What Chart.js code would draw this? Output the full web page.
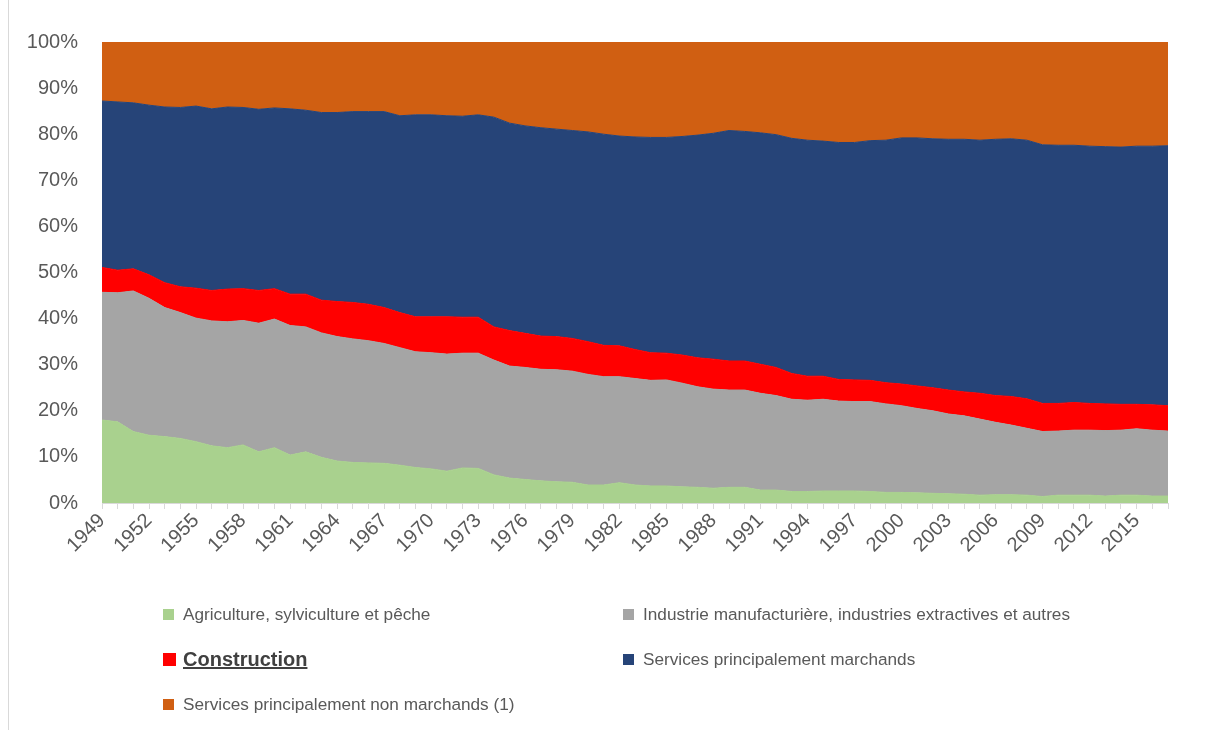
<!DOCTYPE html>
<html lang="fr">
<head>
<meta charset="utf-8">
<title>Valeur ajoutée par branche</title>
<script src="https://cdn.jsdelivr.net/npm/chart.js@4.4.1/dist/chart.umd.min.js"></script>
<style>
  html, body { margin: 0; padding: 0; background: #fff; }
  body { width: 1207px; height: 730px; position: relative; overflow: hidden; font-family: "Liberation Sans", Arial, sans-serif; }
  #frame { position: absolute; left: 8px; top: 0; width: 1px; height: 730px; background: #d9d9d9; }
  #wrap { position: absolute; left: 0; top: 0; width: 1207px; height: 590px; }
  #legend { position: absolute; left: 0; top: 0; width: 1207px; height: 730px; pointer-events: none; }
  .item { position: absolute; display: flex; align-items: center; color: #595959; font-size: 17.2px; white-space: nowrap; }
  .box { width: 11px; height: 11px; margin-right: 9px; flex: none; }
  .item.bold { font-size: 20px; font-weight: bold; text-decoration: underline; color: #404040; }
  .item.bold .box { width: 13px; height: 13px; margin-right: 7px; }
</style>
</head>
<body>
<div id="frame"></div>
<div id="wrap"><canvas id="areaChart"></canvas></div>
<div id="legend"></div>
<script>
const years = [1949, 1950, 1951, 1952, 1953, 1954, 1955, 1956, 1957, 1958,
    1959, 1960, 1961, 1962, 1963, 1964, 1965, 1966, 1967, 1968,
    1969, 1970, 1971, 1972, 1973, 1974, 1975, 1976, 1977, 1978,
    1979, 1980, 1981, 1982, 1983, 1984, 1985, 1986, 1987, 1988,
    1989, 1990, 1991, 1992, 1993, 1994, 1995, 1996, 1997, 1998,
    1999, 2000, 2001, 2002, 2003, 2004, 2005, 2006, 2007, 2008,
    2009, 2010, 2011, 2012, 2013, 2014, 2015, 2016, 2017];

// parts en %
const agriculture = [18.0, 17.6, 15.5, 14.7, 14.4, 14.0, 13.3, 12.4, 12.0, 12.6,
    11.1, 12.0, 10.4, 11.1, 9.9, 9.1, 8.8, 8.7, 8.6, 8.2,
    7.7, 7.4, 6.9, 7.6, 7.5, 6.1, 5.4, 5.1, 4.8, 4.6,
    4.5, 3.9, 3.9, 4.4, 3.9, 3.7, 3.7, 3.5, 3.4, 3.2,
    3.4, 3.4, 2.8, 2.8, 2.5, 2.5, 2.6, 2.6, 2.6, 2.5,
    2.3, 2.3, 2.2, 2.1, 2.0, 1.9, 1.7, 1.8, 1.8, 1.7,
    1.4, 1.7, 1.7, 1.7, 1.5, 1.7, 1.7, 1.5, 1.5];

const industrie = [27.7, 28.0, 30.5, 29.7, 28.0, 27.3, 26.8, 27.1, 27.3, 27.0,
    27.9, 27.9, 28.1, 27.1, 27.0, 27.0, 26.8, 26.5, 26.0, 25.5,
    25.1, 25.2, 25.4, 24.9, 25.0, 24.9, 24.3, 24.3, 24.2, 24.3,
    24.1, 24.0, 23.5, 23.0, 23.1, 22.9, 23.0, 22.5, 21.8, 21.5,
    21.1, 21.1, 21.0, 20.5, 20.0, 19.8, 19.9, 19.5, 19.4, 19.5,
    19.2, 18.8, 18.3, 17.9, 17.3, 17.0, 16.5, 15.7, 15.1, 14.5,
    14.1, 13.9, 14.1, 14.1, 14.2, 14.1, 14.4, 14.3, 14.1];

const construction = [5.4, 4.9, 4.8, 5.1, 5.4, 5.6, 6.5, 6.6, 7.1, 6.9,
    7.1, 6.6, 6.8, 7.1, 7.1, 7.6, 7.9, 7.9, 7.8, 7.6,
    7.6, 7.8, 8.1, 7.8, 7.8, 7.2, 7.7, 7.4, 7.2, 7.2,
    7.1, 7.1, 6.8, 6.7, 6.3, 6.0, 5.8, 6.1, 6.3, 6.5,
    6.3, 6.3, 6.3, 6.1, 5.6, 5.2, 5.0, 4.7, 4.7, 4.6,
    4.6, 4.7, 4.9, 5.0, 5.2, 5.2, 5.6, 5.8, 6.2, 6.4,
    6.1, 6.0, 6.0, 5.8, 5.8, 5.6, 5.3, 5.5, 5.5];

const servicesMarchands = [36.1, 36.5, 36.0, 36.8, 38.1, 38.9, 39.5, 39.4, 39.5, 39.3,
    39.3, 39.2, 40.2, 39.9, 40.7, 41.0, 41.4, 41.8, 42.5, 42.7,
    43.8, 43.8, 43.6, 43.6, 43.9, 45.5, 45.0, 45.0, 45.2, 45.0,
    45.1, 45.5, 45.8, 45.5, 46.1, 46.7, 46.8, 47.4, 48.3, 49.0,
    50.0, 49.8, 50.2, 50.5, 51.0, 51.2, 51.0, 51.4, 51.5, 52.0,
    52.6, 53.4, 53.8, 54.0, 54.4, 54.8, 54.9, 55.6, 55.9, 56.1,
    56.1, 56.0, 55.8, 55.8, 55.8, 55.8, 56.0, 56.1, 56.4];

const servicesNonMarchands = [12.8, 13.0, 13.2, 13.7, 14.1, 14.2, 13.9, 14.5, 14.1, 14.2,
    14.6, 14.3, 14.5, 14.8, 15.3, 15.3, 15.1, 15.1, 15.1, 16.0,
    15.8, 15.8, 16.0, 16.1, 15.8, 16.3, 17.6, 18.2, 18.6, 18.9,
    19.2, 19.5, 20.0, 20.4, 20.6, 20.7, 20.7, 20.5, 20.2, 19.8,
    19.2, 19.4, 19.7, 20.1, 20.9, 21.3, 21.5, 21.8, 21.8, 21.4,
    21.3, 20.8, 20.8, 21.0, 21.1, 21.1, 21.3, 21.1, 21.0, 21.3,
    22.3, 22.4, 22.4, 22.6, 22.7, 22.8, 22.6, 22.6, 22.5];

const seriesNames = [
    'Agriculture, sylviculture et pêche',
    'Industrie manufacturière, industries extractives et autres',
    'Construction',
    'Services principalement marchands',
    'Services principalement non marchands (1)'
];
const seriesColors = ['#A9D18E', '#A5A5A5', '#FF0000', '#264478', '#D05F12'];
const seriesData = [agriculture, industrie, construction, servicesMarchands, servicesNonMarchands];

Chart.defaults.font.family = '"Liberation Sans", Arial, sans-serif';
Chart.defaults.color = '#595959';

const areaChartContext = document.getElementById('areaChart').getContext('2d');

const areaChart = new Chart(areaChartContext, {
    type: 'line',
    data: {
        labels: years,
        datasets: seriesData.map((values, i) => ({
            label: seriesNames[i],
            data: values,
            backgroundColor: seriesColors[i],
            borderColor: seriesColors[i],
            borderWidth: 1,
            pointRadius: 0,
            tension: 0,
            fill: i === 0 ? 'origin' : '-1'
        }))
    },
    options: {
        responsive: true,
        maintainAspectRatio: false,
        animation: false,
        layout: { padding: { left: 10, right: 39, top: 42, bottom: 0 } },
        plugins: {
            legend: { display: false },
            tooltip: { enabled: false }
        },
        scales: {
            x: {
                offset: false,
                grid: { drawOnChartArea: false, color: '#d9d9d9', tickLength: 6 },
                border: { color: '#d9d9d9' },
                ticks: {
                    autoSkip: false,
                    maxRotation: 45,
                    minRotation: 45,
                    padding: 0,
                    font: { size: 20 },
                    callback: function (value, index) {
                        return index % 3 === 0 ? years[index] : '';
                    }
                },
                afterFit: function (scale) { scale.height = 87; }
            },
            y: {
                stacked: true,
                min: 0,
                max: 100,
                grid: { display: false, drawTicks: false },
                border: { display: false },
                ticks: {
                    stepSize: 10,
                    padding: 24,
                    font: { size: 20 },
                    callback: function (value) { return value + '%'; }
                },
                afterFit: function (scale) { scale.width = 92; }
            }
        }
    }
});

// légende en deux colonnes
const legendSlots = [
    { left: 163, top: 614 },
    { left: 623, top: 614 },
    { left: 163, top: 659 },
    { left: 623, top: 659 },
    { left: 163, top: 704 }
];
const legendBox = document.getElementById('legend');
seriesNames.forEach((name, i) => {
    const item = document.createElement('div');
    item.className = 'item' + (name === 'Construction' ? ' bold' : '');
    item.style.left = legendSlots[i].left + 'px';
    item.style.top = (legendSlots[i].top - 12) + 'px';
    item.style.height = '24px';
    const box = document.createElement('span');
    box.className = 'box';
    box.style.background = seriesColors[i];
    const text = document.createElement('span');
    text.textContent = name;
    item.appendChild(box);
    item.appendChild(text);
    legendBox.appendChild(item);
});
</script>
</body>
</html>
